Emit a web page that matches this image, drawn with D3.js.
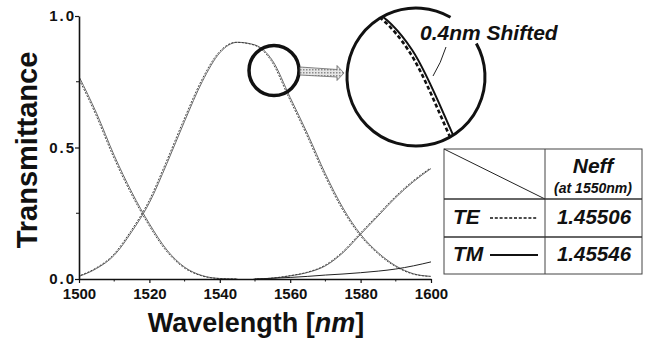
<!DOCTYPE html>
<html>
<head>
<meta charset="utf-8">
<script src="https://cdn.jsdelivr.net/npm/d3@7"></script>
<style>
body { margin: 0; background: #fff; }
text { font-family: "Liberation Sans", Arial, sans-serif; fill: #111; }
</style>
</head>
<body>
<div id="myPlot" style="width:648px;height:345px"></div>
<script>
// wavelength grid (nm) shared by all the bands
const wavelengths = [1500, 1505, 1510, 1515, 1520, 1525, 1530, 1535, 1540, 1545, 1550,
    1555, 1560, 1565, 1570, 1575, 1580, 1585, 1590, 1595, 1600]

// transmittance (null = band not drawn there)
const leftBand = [0.77, 0.63, 0.47, 0.33, 0.21, 0.11, 0.045, 0.013, 0.002, 0, null,
    null, null, null, null, null, null, null, null, null, null]
const centreBand = [0.01, 0.04, 0.09, 0.18, 0.29, 0.44, 0.60, 0.75, 0.86, 0.90, 0.89,
    0.83, 0.69, 0.55, 0.40, 0.27, 0.17, 0.10, 0.05, 0.02, 0.01]
const rightBand = [null, null, null, null, null, null, null, null, null, null, 0,
    0.003, 0.012, 0.025, 0.05, 0.10, 0.17, 0.24, 0.31, 0.37, 0.42]
const lowBand = [null, null, null, null, null, null, null, null, null, null, 0,
    0.003, 0.006, 0.01, 0.015, 0.019, 0.024, 0.03, 0.038, 0.05, 0.065]

const xTicks = [1500, 1520, 1540, 1560, 1580, 1600]
const xMinorTicks = [1510, 1530, 1550, 1570, 1590]
const yTicks = [0, 0.5, 1.0]
const yMinorTicks = [0.25, 0.75]

const teShift = 0.4   // TE curve sits 0.4 nm to the blue side
const tableRows = [
    {mode: "TE", neff: "1.45506", dashed: true},
    {mode: "TM", neff: "1.45546", dashed: false}
]

const margin = {top: 16, right: 217, bottom: 66, left: 79}
const clientWidth = 648
const clientHeight = 345
const width = 431 - margin.left
const height = 279 - margin.top

const svg = d3.select("#myPlot").append("svg")
    .attr("width", clientWidth)
    .attr("height", clientHeight)

const x = d3.scaleLinear().domain([1500, 1600]).range([margin.left, margin.left + width])
const y = d3.scaleLinear().domain([0, 1]).range([margin.top + height, margin.top])

const series = band => wavelengths.map((w, i) => ({w, t: band[i]}))

const lineFor = (xs, ys, shift) => d3.line()
    .defined(d => d.t != null)
    .x(d => xs(d.w - shift))
    .y(d => ys(d.t))
    .curve(d3.curveMonotoneX)

svg.append("defs").append("clipPath")
    .attr("id", "plotClip")
    .append("rect")
    .attr("x", margin.left).attr("y", margin.top - 5)
    .attr("width", width).attr("height", height + 5)

const plotG = svg.append("g").attr("clip-path", "url(#plotClip)")

const bands = [leftBand, centreBand, rightBand]
bands.forEach(band => {
    plotG.append("path")
        .attr("d", lineFor(x, y, 0)(series(band)))
        .attr("fill", "none")
        .attr("stroke", "#666")
        .attr("stroke-width", 1)
    plotG.append("path")
        .attr("d", lineFor(x, y, teShift)(series(band)))
        .attr("fill", "none")
        .attr("stroke", "#333")
        .attr("stroke-width", 0.9)
        .attr("stroke-dasharray", "2,1.5")
})
plotG.append("path")
    .attr("d", lineFor(x, y, 0)(series(lowBand)))
    .attr("fill", "none")
    .attr("stroke", "#222")
    .attr("stroke-width", 1)

// axes
const xAxisG = svg.append("g")
    .attr("transform", `translate(0, ${margin.top + height})`)
    .call(d3.axisBottom(x).tickValues(xTicks).tickSize(4).tickSizeOuter(0).tickFormat(d3.format("d")))
xAxisG.selectAll(".minor")
    .data(xMinorTicks)
    .enter().append("line")
    .attr("x1", d => x(d)).attr("x2", d => x(d))
    .attr("y1", 0).attr("y2", 2.5)
    .attr("stroke", "#111")

const yAxisG = svg.append("g")
    .attr("transform", `translate(${margin.left}, 0)`)
    .call(d3.axisLeft(y).tickValues(yTicks).tickSize(4).tickSizeOuter(0).tickFormat(d3.format(".1f")))
yAxisG.selectAll(".minor")
    .data(yMinorTicks)
    .enter().append("line")
    .attr("y1", d => y(d)).attr("y2", d => y(d))
    .attr("x1", 0).attr("x2", -3)
    .attr("stroke", "#111")

svg.selectAll(".domain").attr("stroke", "#111").attr("stroke-width", 1.6)
svg.selectAll(".tick line").attr("stroke", "#111").attr("stroke-width", 1.2)
xAxisG.selectAll(".tick text")
    .attr("y", 9)
    .attr("font-size", 15)
    .attr("font-weight", "bold")
    .attr("font-family", "'Liberation Sans', Arial, sans-serif")
yAxisG.selectAll(".tick text")
    .attr("x", -3)
    .attr("font-size", 15)
    .attr("font-weight", "bold")
    .attr("letter-spacing", 2)
    .attr("font-family", "'Liberation Sans', Arial, sans-serif")

svg.append("text")
    .attr("transform", "translate(37, 150) rotate(-90)")
    .attr("text-anchor", "middle")
    .attr("font-size", 29)
    .attr("font-weight", "bold")
    .text("Transmittance")

const xTitle = svg.append("text")
    .attr("x", 256).attr("y", 332)
    .attr("text-anchor", "middle")
    .attr("font-size", 27)
    .attr("font-weight", "bold")
xTitle.append("tspan").text("Wavelength [")
xTitle.append("tspan").attr("font-style", "italic").text("nm")
xTitle.append("tspan").text("]")

// zoom circle on the centre band and its magnified inset
const small = {cx: 274, cy: 70.5, r: 25}
const big = {cx: 416, cy: 77, r: 69}
const mag = big.r / small.r
const ix = w => big.cx + (x(w) - small.cx) * mag
const iy = t => big.cy + (y(t) - small.cy) * mag

svg.append("defs").append("clipPath")
    .attr("id", "insetClip")
    .append("circle")
    .attr("cx", big.cx).attr("cy", big.cy).attr("r", big.r - 1)

const insetG = svg.append("g").attr("clip-path", "url(#insetClip)")
insetG.append("path")
    .attr("d", lineFor(ix, iy, 0)(series(centreBand)))
    .attr("fill", "none")
    .attr("stroke", "#111")
    .attr("stroke-width", 2)
insetG.append("path")
    .attr("d", lineFor(ix, iy, teShift)(series(centreBand)))
    .attr("fill", "none")
    .attr("stroke", "#111")
    .attr("stroke-width", 2.6)
    .attr("stroke-dasharray", "4,2.5")

svg.append("circle")
    .attr("cx", small.cx).attr("cy", small.cy).attr("r", small.r)
    .attr("fill", "none")
    .attr("stroke", "#111")
    .attr("stroke-width", 3.5)

// big circle is broken where the label crosses it
const bigArc = d3.path()
bigArc.arc(big.cx, big.cy, big.r, -29 * Math.PI / 180, 300 * Math.PI / 180)
svg.append("path")
    .attr("d", bigArc.toString())
    .attr("fill", "none")
    .attr("stroke", "#111")
    .attr("stroke-width", 3)

// hatched arrow between the circles
const hatch = svg.append("defs").append("pattern")
    .attr("id", "hatch")
    .attr("width", 3).attr("height", 3)
    .attr("patternUnits", "userSpaceOnUse")
hatch.append("rect").attr("width", 3).attr("height", 3).attr("fill", "#e6e6e6")
hatch.append("rect").attr("width", 1.5).attr("height", 1.5).attr("fill", "#8a8a8a")

svg.append("path")
    .attr("d", "M300,67 L337,69.5 L337,65.5 L344,73 L337,80.5 L337,77 L300,75 Z")
    .attr("fill", "url(#hatch)")
    .attr("stroke", "#666")
    .attr("stroke-width", 0.8)

svg.append("text")
    .attr("x", 420).attr("y", 40)
    .attr("font-size", 21)
    .attr("font-weight", "bold")
    .attr("font-style", "italic")
    .text("0.4nm Shifted")

svg.append("path")
    .attr("d", "M446,47 Q441,63 433,76")
    .attr("fill", "none")
    .attr("stroke", "#222")
    .attr("stroke-width", 1)

// Neff table
const table = {x0: 444, x1: 545, x2: 642, y0: 149, y1: 199, y2: 237, y3: 274}
const tableG = svg.append("g").attr("stroke", "#444").attr("fill", "none")
tableG.append("rect")
    .attr("x", table.x0).attr("y", table.y0)
    .attr("width", table.x2 - table.x0).attr("height", table.y3 - table.y0)
    .attr("stroke-width", 1)
tableG.append("line")
    .attr("x1", table.x1).attr("x2", table.x1).attr("y1", table.y0).attr("y2", table.y3)
tableG.append("line")
    .attr("x1", table.x0).attr("x2", table.x1).attr("y1", table.y0).attr("y2", table.y1)
    .attr("stroke", "#222")
;[table.y1, table.y2].forEach(yy => {
    tableG.append("line")
        .attr("x1", table.x0).attr("x2", table.x2).attr("y1", yy).attr("y2", yy)
        .attr("stroke", "#333").attr("stroke-width", 1.6)
})

svg.append("text")
    .attr("x", 593).attr("y", 173)
    .attr("text-anchor", "middle")
    .attr("font-size", 21)
    .attr("font-weight", "bold")
    .attr("font-style", "italic")
    .text("Neff")
svg.append("text")
    .attr("x", 593).attr("y", 193)
    .attr("text-anchor", "middle")
    .attr("font-size", 14)
    .attr("font-weight", "bold")
    .attr("font-style", "italic")
    .text("(at 1550nm)")

const rowBaselines = [224, 261]
tableRows.forEach((row, i) => {
    const base = rowBaselines[i]
    svg.append("text")
        .attr("x", 453).attr("y", base)
        .attr("font-size", 21)
        .attr("font-weight", "bold")
        .attr("font-style", "italic")
        .text(row.mode)
    svg.append("line")
        .attr("x1", 490).attr("x2", 538)
        .attr("y1", base - 6).attr("y2", base - 6)
        .attr("stroke", "#111")
        .attr("stroke-width", row.dashed ? 1.3 : 2)
        .attr("stroke-dasharray", row.dashed ? "3,1.8" : null)
    svg.append("text")
        .attr("x", 594).attr("y", base)
        .attr("text-anchor", "middle")
        .attr("font-size", 20.5)
        .attr("font-weight", "bold")
        .attr("font-style", "italic")
        .text(row.neff)
})
</script>
</body>
</html>
